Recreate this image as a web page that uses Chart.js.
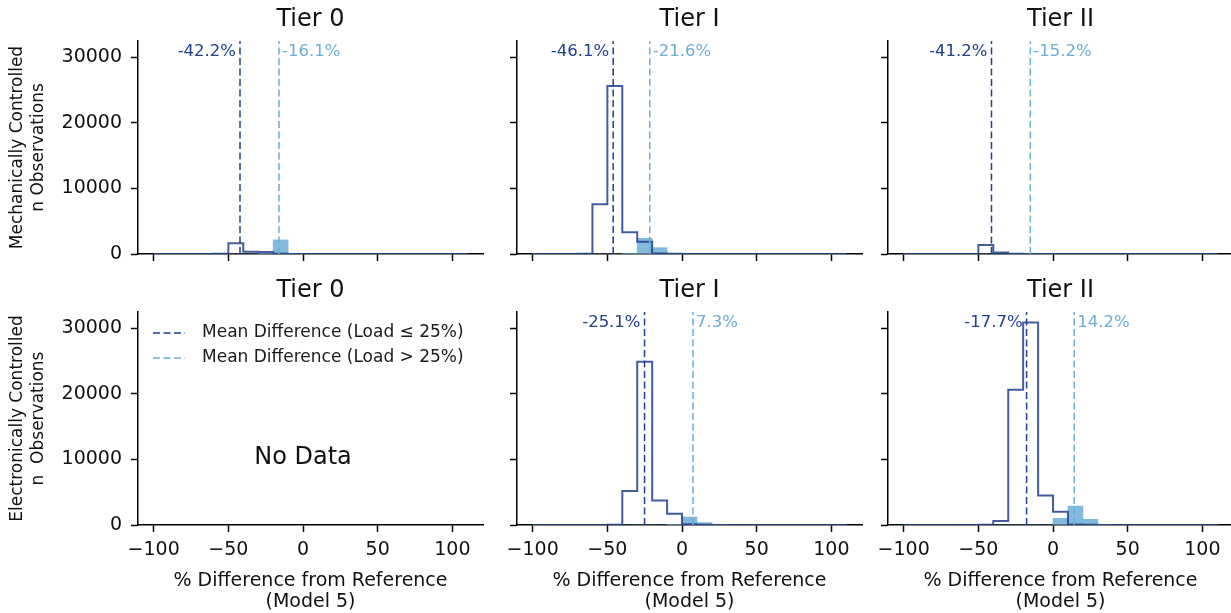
<!DOCTYPE html>
<html lang="en">
<head>
<meta charset="UTF-8">
<title>% Difference from Reference by Tier</title>
<style>
    body {
        margin: 0;
        width: 1231px;
        height: 613px;
        position: relative;
        overflow: hidden;
        background: #ffffff;
    }

    canvas {
        position: absolute;
    }
</style>
</head>
<body>

<canvas id="mech0"></canvas>
<canvas id="mech1"></canvas>
<canvas id="mech2"></canvas>
<canvas id="elec0"></canvas>
<canvas id="elec1"></canvas>
<canvas id="elec2"></canvas>

<script src="https://cdn.jsdelivr.net/npm/chart.js@4"></script>
<script>
    // 10-point bins, % difference from reference
    const binEdges = [-100, -90, -80, -70, -60, -50, -40, -30, -20, -10, 0,
                      10, 20, 30, 40, 50, 60, 70, 80, 90, 100, 110];
    const xTicks = [-100, -50, 0, 50, 100];
    const yTicks = [0, 10000, 20000, 30000];
    const yMax = 32500;
    const tierTitles = ['Tier 0', 'Tier I', 'Tier II'];

    // observation counts per bin: Load <= 25% (outline) and Load > 25% (filled)
    const mechTier0Low  = [0, 0, 0, 0, 20, 1640, 330, 290, 40, 10, 0, 0, 0, 0, 0, 0, 0, 0, 0, 0, 0];
    const mechTier0High = [0, 0, 0, 0, 0, 0, 0, 20, 2150, 40, 0, 0, 0, 0, 0, 0, 0, 0, 0, 0, 0];
    const mechTier1Low  = [0, 0, 0, 30, 7610, 25620, 3320, 1880, 90, 20, 0, 0, 0, 0, 0, 0, 0, 0, 0, 0, 0];
    const mechTier1High = [0, 0, 0, 0, 0, 0, 40, 2400, 960, 60, 0, 0, 0, 0, 0, 0, 0, 0, 0, 0, 0];
    const mechTier2Low  = [0, 0, 0, 0, 10, 1380, 220, 30, 0, 0, 0, 0, 0, 0, 0, 0, 0, 0, 0, 0, 0];
    const mechTier2High = [0, 0, 0, 0, 0, 0, 0, 10, 40, 10, 0, 0, 0, 0, 0, 0, 0, 0, 0, 0, 0];
    const elecTier1Low  = [0, 0, 0, 0, 0, 20, 5170, 24920, 3750, 1730, 120, 20, 0, 0, 0, 0, 0, 0, 0, 0, 0];
    const elecTier1High = [0, 0, 0, 0, 0, 0, 0, 0, 0, 40, 1220, 360, 30, 0, 0, 0, 0, 0, 0, 0, 0];
    const elecTier2Low  = [0, 0, 0, 0, 0, 20, 610, 20620, 30910, 4510, 2040, 90, 20, 0, 0, 0, 0, 0, 0, 0, 0];
    const elecTier2High = [0, 0, 0, 0, 0, 0, 0, 0, 0, 0, 1020, 2890, 870, 40, 0, 0, 0, 0, 0, 0, 0];

    // mean differences per tier (null = no data)
    const mechMeanLow  = [-42.2, -46.1, -41.2];
    const mechMeanHigh = [-16.1, -21.6, -15.2];
    const elecMeanLow  = [null, -25.1, -17.7];
    const elecMeanHigh = [null, 7.3, 14.2];

    const darkBlue = '#23408e';
    const lightBlue = '#6baed6';
    const outlineColor = 'rgba(35, 64, 142, 0.85)';
    const barColor = 'rgba(107, 174, 214, 0.85)';
    const fontFamily = '"DejaVu Sans", sans-serif';

    Chart.defaults.font.family = fontFamily;

    // canvas placement for the 2 x 3 grid
    const columns = [
        { left: 0,   width: 490, yWidth: 138, padRight: 7 },
        { left: 490, width: 380, yWidth: 27,  padRight: 8 },
        { left: 862, width: 380, yWidth: 26,  padRight: 9 }
    ];
    const rows = [
        { top: 0,   height: 271, xHeight: 17, yLabel: ['Mechanically Controlled', 'n Observations'] },
        { top: 271, height: 342, xHeight: 88, yLabel: ['Electronically Controlled', 'n  Observations'] }
    ];

    const panels = [
        { id: 'mech0', row: 0, col: 0, low: mechTier0Low, high: mechTier0High, meanLow: mechMeanLow[0], meanHigh: mechMeanHigh[0] },
        { id: 'mech1', row: 0, col: 1, low: mechTier1Low, high: mechTier1High, meanLow: mechMeanLow[1], meanHigh: mechMeanHigh[1] },
        { id: 'mech2', row: 0, col: 2, low: mechTier2Low, high: mechTier2High, meanLow: mechMeanLow[2], meanHigh: mechMeanHigh[2] },
        { id: 'elec0', row: 1, col: 0, low: null, high: null, meanLow: elecMeanLow[0], meanHigh: elecMeanHigh[0] },
        { id: 'elec1', row: 1, col: 1, low: elecTier1Low, high: elecTier1High, meanLow: elecMeanLow[1], meanHigh: elecMeanHigh[1] },
        { id: 'elec2', row: 1, col: 2, low: elecTier2Low, high: elecTier2High, meanLow: elecMeanLow[2], meanHigh: elecMeanHigh[2] }
    ];

    // outline path of a step histogram: up from the first edge, across each bin, down at the last edge
    function stepPoints(counts) {
        const last = binEdges[binEdges.length - 1];
        const pts = [{ x: binEdges[0], y: 0 }];
        counts.forEach((c, i) => pts.push({ x: binEdges[i], y: c }));
        pts.push({ x: last, y: counts[counts.length - 1] });
        pts.push({ x: last, y: 0 });
        return pts;
    }

    function barPoints(counts) {
        return counts.map((c, i) => ({ x: (binEdges[i] + binEdges[i + 1]) / 2, y: c }));
    }

    function meanLine(value, label, color) {
        return {
            type: 'line',
            label: label,
            isMeanLine: true,
            data: value === null ? [] : [{ x: value, y: 0 }, { x: value, y: yMax }],
            borderColor: color,
            borderWidth: 1.5,
            borderDash: [7, 3.5],
            pointRadius: 0,
            fill: false,
            order: 0
        };
    }

    // mean labels, the legend and the empty-panel note
    const panelText = {
        id: 'panelText',
        afterDatasetsDraw(chart, args, opts) {
            const { ctx, chartArea, scales } = chart;
            ctx.save();
            ctx.textBaseline = 'middle';

            const labelY = scales.y.getPixelForValue(yMax * 0.95);
            ctx.font = '16.5px ' + fontFamily;
            if (opts.meanLow !== null) {
                ctx.fillStyle = darkBlue;
                ctx.textAlign = 'right';
                ctx.fillText(opts.meanLow.toFixed(1) + '%', scales.x.getPixelForValue(opts.meanLow) - 4, labelY);
            }
            if (opts.meanHigh !== null) {
                ctx.fillStyle = lightBlue;
                ctx.textAlign = 'left';
                ctx.fillText(opts.meanHigh.toFixed(1) + '%', scales.x.getPixelForValue(opts.meanHigh) + 3, labelY);
            }

            if (opts.showLegend) {
                const means = chart.data.datasets.filter(d => d.isMeanLine);
                means.forEach((d, i) => {
                    const x = chartArea.left + 15;
                    const y = chartArea.top + 21 + i * 25;
                    ctx.strokeStyle = d.borderColor;
                    ctx.lineWidth = 1.5;
                    ctx.setLineDash(d.borderDash);
                    ctx.beginPath();
                    ctx.moveTo(x, y);
                    ctx.lineTo(x + 32, y);
                    ctx.stroke();
                    ctx.setLineDash([]);
                    ctx.fillStyle = '#1a1a1a';
                    ctx.textAlign = 'left';
                    ctx.font = '17px ' + fontFamily;
                    ctx.fillText(d.label, x + 49, y);
                });
            }

            if (opts.noData) {
                ctx.fillStyle = '#111111';
                ctx.textAlign = 'center';
                ctx.font = '24px ' + fontFamily;
                ctx.fillText('No Data', scales.x.getPixelForValue(0), scales.y.getPixelForValue(10000) - 2);
            }
            ctx.restore();
        }
    };

    panels.forEach(p => {
        const col = columns[p.col];
        const row = rows[p.row];
        const canvas = document.getElementById(p.id);
        canvas.width = col.width;
        canvas.height = row.height;
        canvas.style.left = col.left + 'px';
        canvas.style.top = row.top + 'px';

        const datasets = [
            meanLine(p.meanLow, 'Mean Difference (Load \u2264 25%)', darkBlue),
            meanLine(p.meanHigh, 'Mean Difference (Load > 25%)', lightBlue)
        ];
        if (p.low) {
            datasets.push({
                type: 'line',
                label: 'Load \u2264 25%',
                data: stepPoints(p.low),
                stepped: true,
                borderColor: outlineColor,
                borderWidth: 2,
                pointRadius: 0,
                fill: false,
                order: 1
            });
        }
        if (p.high) {
            datasets.push({
                type: 'bar',
                label: 'Load > 25%',
                data: barPoints(p.high),
                backgroundColor: barColor,
                borderWidth: 0,
                barPercentage: 1,
                categoryPercentage: 1,
                order: 2
            });
        }

        const tickFont = { size: 19, lineHeight: 1.2 };
        const axisLine = {
            grid: { display: true, drawOnChartArea: false, drawTicks: true, tickLength: 7,
                    tickWidth: 1.5, color: '#000000', tickColor: '#000000', offset: false },
            border: { display: true, color: '#000000', width: 1.5 }
        };

        new Chart(canvas, {
            type: 'bar',
            data: { datasets: datasets },
            options: {
                responsive: false,
                animation: false,
                devicePixelRatio: 1,
                events: [],
                layout: { padding: { left: 0, top: 0, right: col.padRight, bottom: 0 } },
                plugins: {
                    legend: { display: false },
                    tooltip: { enabled: false },
                    title: {
                        display: true,
                        text: tierTitles[p.col],
                        fullSize: false,
                        color: '#111111',
                        font: { size: 24, weight: 'normal', lineHeight: 1 },
                        padding: { top: 7.7, bottom: 9.3 }
                    },
                    panelText: {
                        meanLow: p.meanLow,
                        meanHigh: p.meanHigh,
                        showLegend: p.row === 1 && p.col === 0,
                        noData: !p.low && !p.high
                    }
                },
                scales: {
                    x: {
                        type: 'linear',
                        min: -110.5,
                        max: 120.5,
                        offset: false,
                        z: 1,
                        ...axisLine,
                        afterBuildTicks: s => { s.ticks = xTicks.map(v => ({ value: v })); },
                        afterFit: s => {
                            s.height = row.xHeight;
                            s.paddingLeft = 0; s.paddingRight = 0; s.paddingTop = 0; s.paddingBottom = 0;
                        },
                        ticks: {
                            display: p.row === 1,
                            color: '#111111',
                            font: tickFont,
                            padding: 6.5,
                            maxRotation: 0,
                            callback: v => (v < 0 ? '\u2212' + Math.abs(v) : String(v))
                        },
                        title: {
                            display: p.row === 1,
                            text: ['% Difference from Reference', '(Model 5)'],
                            color: '#111111',
                            font: { size: 19, lineHeight: '21px' },
                            padding: { top: 0, bottom: 0 }
                        }
                    },
                    y: {
                        type: 'linear',
                        min: 0,
                        max: yMax,
                        z: 1,
                        ...axisLine,
                        afterBuildTicks: s => { s.ticks = yTicks.map(v => ({ value: v })); },
                        afterFit: s => {
                            s.width = col.yWidth;
                            s.paddingLeft = 0; s.paddingRight = 0; s.paddingTop = 0; s.paddingBottom = 0;
                        },
                        ticks: {
                            display: p.col === 0,
                            color: '#111111',
                            font: tickFont,
                            padding: 9,
                            callback: v => String(v)
                        },
                        title: {
                            display: p.col === 0,
                            text: row.yLabel,
                            color: '#111111',
                            font: { size: 17, lineHeight: '21px' },
                            padding: { top: 7, bottom: 0 }
                        }
                    }
                }
            },
            plugins: [panelText]
        });
    });
</script>

</body>
</html>
